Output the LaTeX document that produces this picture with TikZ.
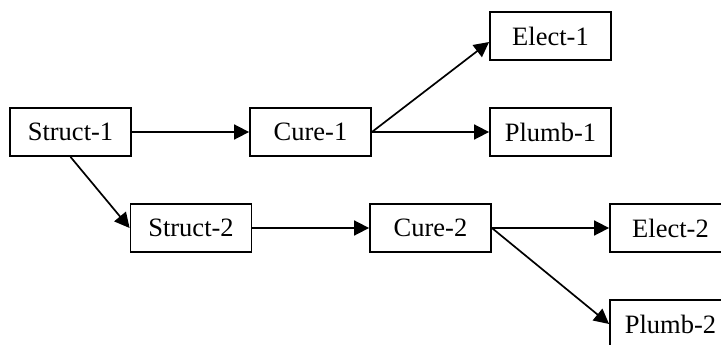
\documentclass[tikz,border=0pt]{standalone}
\usepackage{fontspec}
\setmainfont{Liberation Serif}
\usetikzlibrary{arrows.meta}
\begin{document}
\begin{tikzpicture}[x=1pt,y=-1pt,
  box/.style={draw,line width=1.8pt,minimum width=121pt,minimum height=48pt,inner sep=0pt,font=\fontsize{26.5}{29}\selectfont},
  conn/.style={line width=1.7pt,-{Triangle[length=15pt,width=15pt]}}]
\useasboundingbox (0,0) rectangle (721,345);
\node[box] (s1) at (70.5,132) {Struct-1};
\node[box] (c1) at (310.5,132) {Cure-1};
\node[box] (e1) at (550.5,36) {Elect-1};
\node[box] (p1) at (550.5,132) {Plumb-1};
\node[box] (s2) at (191,228) {Struct-2};
\node[box] (c2) at (430.5,228) {Cure-2};
\node[box] (e2) at (670.5,228) {Elect-2};
\node[box] (p2) at (670.5,324) {Plumb-2};
\draw[conn] (s1.east) -- (c1.west);
\draw[conn] (s1.south) -- (s2.west);
\draw[conn] (c1.east) -- ([yshift=-6pt]e1.west);
\draw[conn] (c1.east) -- (p1.west);
\draw[conn] (s2.east) -- (c2.west);
\draw[conn] (c2.east) -- (e2.west);
\draw[conn] (c2.east) -- (p2.west);
\end{tikzpicture}
\end{document}
